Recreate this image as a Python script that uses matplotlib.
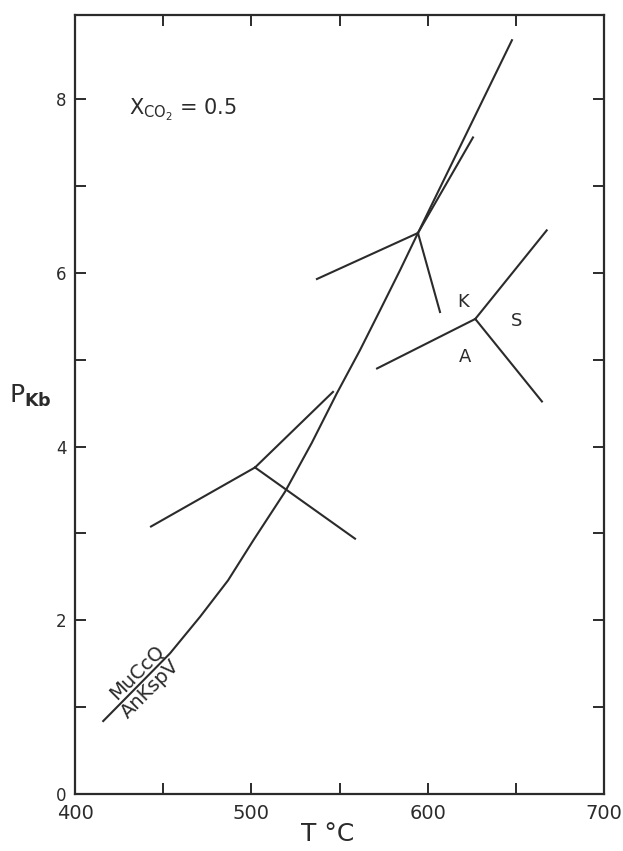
import matplotlib
matplotlib.use("Agg")
import matplotlib.pyplot as plt
from matplotlib.ticker import MultipleLocator

plt.rcParams['font.family'] = ['DejaVu Sans']
plt.rcParams['mathtext.default'] = 'regular'

# main reaction curve MuCcQ / AnKspV (T in C, P in kb)
curve_T = [416.0, 453.9, 470.9, 486.8, 501.1, 519.1, 534.2, 548.4, 561.6, 573.0, 584.3, 594.5, 647.8]
curve_P = [0.84, 1.62, 2.04, 2.46, 2.92, 3.48, 4.04, 4.61, 5.11, 5.57, 6.03, 6.46, 8.68]

# invariant points and the ends of their branches
low_pt = (502.1, 3.76)
low_ends = [(443.1, 3.08), (546.3, 4.63), (558.8, 2.94)]

up_pt = (594.5, 6.46)
up_ends = [(537.2, 5.93), (607.0, 5.55), (625.7, 7.56)]

right_pt = (627.0, 5.47)
right_ends = [(571.3, 4.90), (667.5, 6.49), (664.8, 4.52)]

# field labels
field_labels = ['K', 'S', 'A']
field_T = [620.0, 650.5, 621.2]
field_P = [5.66, 5.45, 5.03]

xticks = [400, 500, 600, 700]
xtick_labels = ['400', '500', '600', '700']
yticks = [0, 2, 4, 6, 8]

lw = 1.5
col = '#2b2b2b'

fig = plt.figure(figsize=(6.23, 8.51), dpi=100)
ax = fig.add_axes([75 / 623, 57 / 851, 529 / 623, 779 / 851])

ax.plot(curve_T, curve_P, color=col, lw=lw)
for pt, ends in [(low_pt, low_ends), (up_pt, up_ends), (right_pt, right_ends)]:
    for e in ends:
        ax.plot([pt[0], e[0]], [pt[1], e[1]], color=col, lw=lw)

for lab, t, p in zip(field_labels, field_T, field_P):
    ax.text(t, p, lab, fontsize=13, ha='center', va='center', color=col)

# reaction label written above and below the curve
ax.text(438.8, 1.33, 'MuCcQ', rotation=45, rotation_mode='anchor', fontsize=14,
        ha='center', va='bottom', color=col)
ax.text(438.8, 1.29, 'AnKspV', rotation=45, rotation_mode='anchor', fontsize=14,
        ha='center', va='top', color=col)

ax.text(430.5, 7.88, r'$X_{CO_2}$ = 0.5', fontsize=15, ha='left', va='center', color=col)

ax.set_xlim(400, 700)
ax.set_ylim(0, 8.97)
ax.set_xticks(xticks)
ax.set_xticklabels(xtick_labels)
ax.set_yticks(yticks)
ax.xaxis.set_minor_locator(MultipleLocator(50))
ax.yaxis.set_minor_locator(MultipleLocator(1))
ax.tick_params(which='both', direction='in', length=8, width=1.4, top=True, right=True, color=col)
ax.tick_params(axis='x', labelsize=14, pad=7, labelcolor=col)
ax.tick_params(axis='y', labelsize=12, pad=6, labelcolor=col)
for s in ax.spines.values():
    s.set_linewidth(1.6)
    s.set_color(col)

fig.text(328 / 623, 1 - 834 / 851, 'T °C', fontsize=18, ha='center', va='center', color=col)
fig.text(30 / 623, 1 - 396 / 851, r'P$_{\mathbf{Kb}}$', fontsize=18, ha='center', va='center', color=col)

fig.savefig('out.png', dpi=100)
